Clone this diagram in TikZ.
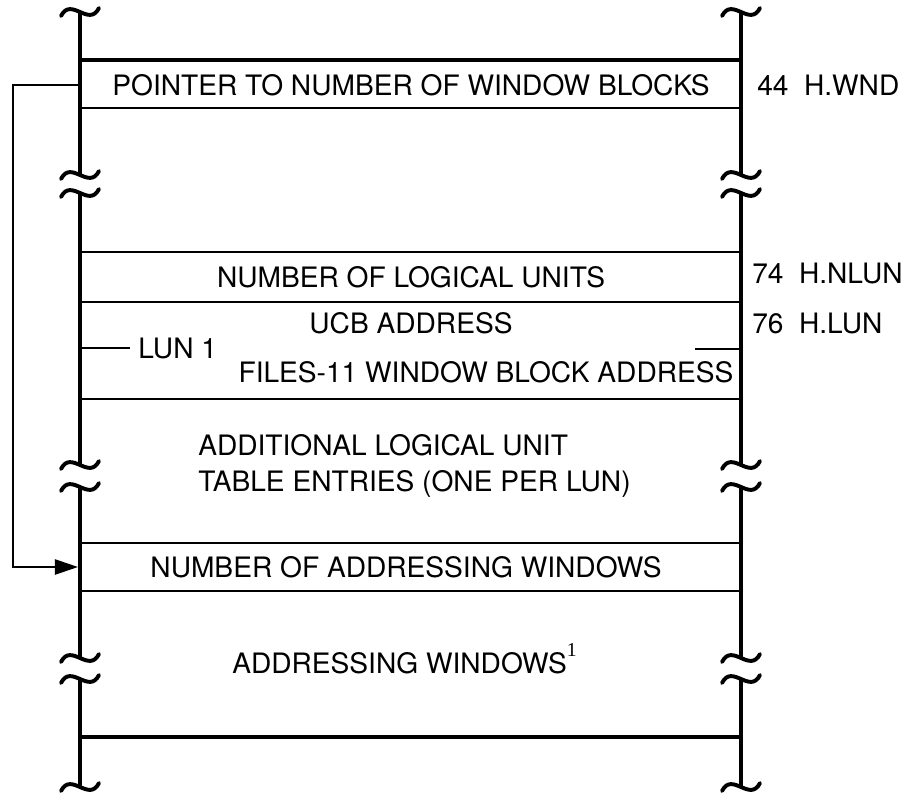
\documentclass[tikz,border=0pt]{standalone}
\usepackage{fontspec}
\setmainfont{TeX Gyre Heros}
\newfontfamily\notefont{Liberation Serif}
\usetikzlibrary{arrows.meta}

\begin{document}
\begin{tikzpicture}[
    x=0.025cm, y=-0.025cm,
    field/.style={font=\fontsize{20}{25}\selectfont, inner sep=0pt},
    offset/.style={field, anchor=west},
    wall/.style={line width=2.9pt},
    rule/.style={line width=1.9pt},
    brk/.style={line width=2.8pt, line cap=round},
    tick/.style={line width=1.5pt},
    fb/.style={line width=1.5pt, -{Triangle[length=0.58cm, width=0.38cm]}}
  ]
    \useasboundingbox (0,0) rectangle (920,797);
    % side walls with break marks
    \foreach \xx in {80,741} {
      \foreach \ya/\yb in {12/175, 193/465, 487/658, 679/787}
        \draw[wall] (\xx,\ya) -- (\xx,\yb);
      \foreach \yy in {12,175,193,465,487,658,679,787}
        \draw[brk] (\xx-19,\yy+4) .. controls (\xx-9,\yy-16) and (\xx+9,\yy+16) .. (\xx+19,\yy-4);
    }
    % rows
    \draw[wall] (80,60) -- (741,60);
    \draw[wall] (80,737) -- (741,737);
    \foreach \yy in {108,252,302,399,543,591}
      \draw[rule] (80,\yy) -- (741,\yy);
    \node[field] (wndptr) at (411,85) {POINTER TO NUMBER OF WINDOW BLOCKS};
    \node[field] (nlun) at (411,277) {NUMBER OF LOGICAL UNITS};
    \node[field] (ucb) at (411,323) {UCB ADDRESS};
    \node[field] (wndblk) at (486,372) {FILES-11 WINDOW BLOCK ADDRESS};
    \node[field, anchor=west] (lun1) at (138,348) {LUN 1};
    \node[field, anchor=west, align=left] (morelun) at (198,466) {ADDITIONAL LOGICAL UNIT\\TABLE ENTRIES (ONE PER LUN)};
    \node[field] (nwnd) at (406,567) {NUMBER OF ADDRESSING WINDOWS};
    \node[field, anchor=base west] (wnds) at (232,673) {ADDRESSING WINDOWS\raisebox{12pt}{\notefont\fontsize{14}{14}\selectfont 1}};
    \draw[tick] (80,348) -- (130,348);
    \draw[tick] (695,349) -- (741,349);
    % offsets
    \node[offset] (ofswnd) at (757,85) {44\hspace{.55em}H.WND};
    \node[offset] (ofsnlun) at (752,273) {74\hspace{.55em}H.NLUN};
    \node[offset] (ofslun) at (752,323) {76\hspace{.55em}H.LUN};
    % pointer to window count
    \coordinate (ptrsrc) at (80,85);
    \coordinate (ptrdst) at (78,567);
    \draw[fb] (ptrsrc) -- ++(-67,0) |- (ptrdst);
  \end{tikzpicture}
\end{document}
